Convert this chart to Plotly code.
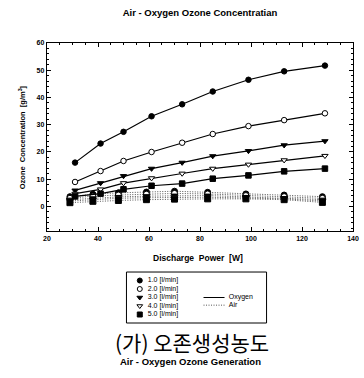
import plotly.graph_objects as go

# ---------------- data ----------------
flow_labels = ["1.0 [l/min]", "2.0 [l/min]", "3.0 [l/min]", "4.0 [l/min]", "5.0 [l/min]"]
x_oxygen = [31, 41, 50, 61, 73, 85, 99, 113, 129]
oxy_10 = [16.1, 23.1, 27.4, 33.1, 37.5, 42.2, 46.5, 49.6, 51.7]
oxy_20 = [9.0, 13.0, 16.7, 20.0, 23.4, 26.6, 29.5, 31.7, 34.2]
oxy_30 = [5.9, 8.6, 11.2, 13.9, 16.1, 18.5, 20.4, 22.5, 24.0]
oxy_40 = [4.7, 6.3, 8.6, 10.4, 12.1, 13.9, 15.4, 17.0, 18.6]
oxy_50 = [3.7, 4.7, 6.3, 7.6, 8.4, 10.2, 11.4, 12.9, 13.9]

x_air = [29, 38, 48, 59, 70, 83, 98, 113, 128]
air_10 = [3.6, 4.5, 5.0, 5.3, 5.6, 5.2, 4.6, 4.2, 3.6]
air_20 = [3.0, 3.8, 4.2, 4.5, 4.8, 4.6, 4.0, 3.6, 3.0]
air_30 = [2.5, 3.0, 3.5, 3.8, 4.0, 4.0, 3.5, 3.1, 2.5]
air_40 = [2.0, 2.5, 3.0, 3.2, 3.4, 3.4, 3.1, 2.8, 2.0]
air_50 = [1.4, 1.9, 2.2, 2.5, 2.7, 2.8, 2.8, 2.5, 1.5]

x_ticks = [20, 40, 60, 80, 100, 120, 140]
y_ticks = [0, 10, 20, 30, 40, 50, 60]

oxy_series = [oxy_10, oxy_20, oxy_30, oxy_40, oxy_50]
air_series = [air_10, air_20, air_30, air_40, air_50]

# marker styles: (symbol, fill)
styles = [("circle", "black"), ("circle", "white"), ("triangle-down", "black"),
          ("triangle-down", "white"), ("square", "black")]

FONT = "Liberation Sans"
AIR_DASH = "1px,1.5px"
fig = go.Figure()

for vals, (sym, fill) in zip(air_series, styles):
    fig.add_trace(go.Scatter(
        x=x_air, y=vals, mode="lines+markers",
        line=dict(color="#555555", width=1, dash=AIR_DASH),
        marker=dict(symbol=sym, size=6, color=fill, line=dict(color="black", width=1)),
        showlegend=False, xaxis="x", yaxis="y"))

for vals, (sym, fill) in zip(oxy_series, styles):
    fig.add_trace(go.Scatter(
        x=x_oxygen, y=vals, mode="lines+markers",
        line=dict(color="black", width=1.2),
        marker=dict(symbol=sym, size=5.5, color=fill, line=dict(color="black", width=1)),
        showlegend=False, xaxis="x", yaxis="y"))

# ---------------- hand-made legend on an auxiliary axis ----------------
rows = list(range(len(flow_labels), 0, -1))  # 5,4,3,2,1
for r, lab, (sym, fill) in zip(rows, flow_labels, styles):
    fig.add_trace(go.Scatter(
        x=[0.95], y=[r], mode="markers+text", text=["  " + lab],
        textposition="middle right",
        textfont=dict(family=FONT, size=7, color="black"),
        marker=dict(symbol=sym, size=5, color=fill, line=dict(color="black", width=1)),
        showlegend=False, xaxis="x2", yaxis="y2", hoverinfo="skip"))

fig.add_trace(go.Scatter(x=[5.5, 7.0], y=[3.0, 3.0], mode="lines",
                         line=dict(color="black", width=1.2),
                         showlegend=False, xaxis="x2", yaxis="y2", hoverinfo="skip"))
fig.add_trace(go.Scatter(x=[5.5, 7.0], y=[2.1, 2.1], mode="lines",
                         line=dict(color="#555555", width=1, dash=AIR_DASH),
                         showlegend=False, xaxis="x2", yaxis="y2", hoverinfo="skip"))
fig.add_trace(go.Scatter(x=[7.3, 7.3], y=[3.0, 2.1], mode="text",
                         text=["Oxygen", "Air"], textposition="middle right",
                         textfont=dict(family=FONT, size=7, color="black"),
                         showlegend=False, xaxis="x2", yaxis="y2", hoverinfo="skip"))

tickfont = dict(family=FONT, size=7, color="black")

fig.update_layout(
    width=364, height=378,
    margin=dict(l=47, r=9, t=43, b=5),
    paper_bgcolor="white", plot_bgcolor="white",
    font=dict(family=FONT, color="black"),
    title=dict(text="<b>Air - Oxygen Ozone Concentratian</b>",
               x=0.5, xref="paper", xanchor="center",
               y=1 - 13 / 378, yref="container", yanchor="middle",
               font=dict(family=FONT, size=9.5, color="black")),
    xaxis=dict(range=[20, 140], tickvals=x_ticks,
               ticktext=["<b>%d</b>" % v for v in x_ticks],
               tickfont=tickfont, ticks="inside", ticklen=4, tickwidth=1,
               tickcolor="black", showline=True, linecolor="black", linewidth=1.2,
               mirror="ticks", showgrid=False, zeroline=False,
               minor=dict(ticks="inside", ticklen=2, dtick=5, tick0=20,
                          tickcolor="black", showgrid=False),
               domain=[0, 1], anchor="y"),
    yaxis=dict(range=[-9, 60], tickvals=y_ticks,
               ticktext=["<b>%d</b>" % v for v in y_ticks],
               tickfont=tickfont, ticks="inside", ticklen=4, tickwidth=1,
               tickcolor="black", showline=True, linecolor="black", linewidth=1.2,
               mirror="ticks", showgrid=False, zeroline=False,
               minor=dict(ticks="inside", ticklen=2, dtick=2, tick0=0,
                          tickcolor="black", showgrid=False),
               domain=[0.4303, 1], anchor="x"),
    xaxis2=dict(range=[0, 10], domain=[0.2597, 0.7175], anchor="y2",
                visible=False, fixedrange=True),
    yaxis2=dict(range=[0, 6], domain=[0.1515, 0.306], anchor="x2",
                visible=False, fixedrange=True),
    shapes=[dict(type="rect", xref="x2 domain", yref="y2 domain",
                 x0=0, x1=1, y0=0, y1=1, line=dict(color="black", width=1))],
    annotations=[
        dict(text="<b>Discharge  Power  [W]</b>", xref="paper", yref="paper",
             x=0.492, y=0.348, xanchor="center", yanchor="middle", showarrow=False,
             font=dict(family=FONT, size=8.5, color="black")),
        dict(text="<b>Ozone  Concentration  [g/m<sup>3</sup>]</b>", xref="paper", yref="paper",
             x=-0.081, y=0.715, xanchor="center", yanchor="middle", showarrow=False,
             textangle=-90, font=dict(family=FONT, size=7.5, color="black")),
        dict(text="(가) 오존생성농도", xref="paper", yref="paper",
             x=0.475, y=0.094, xanchor="center", yanchor="middle", showarrow=False,
             font=dict(family="Noto Sans CJK KR", size=21, color="black")),
        dict(text="<b>Air - Oxygen Ozone Generation</b>", xref="paper", yref="paper",
             x=0.47, y=0.036, xanchor="center", yanchor="middle", showarrow=False,
             font=dict(family=FONT, size=9.5, color="black")),
    ],
)

fig.write_html("out.html",
               config={"displayModeBar": False, "staticPlot": True},
               post_script="document.body.style.margin='0';document.body.style.overflow='hidden';")
